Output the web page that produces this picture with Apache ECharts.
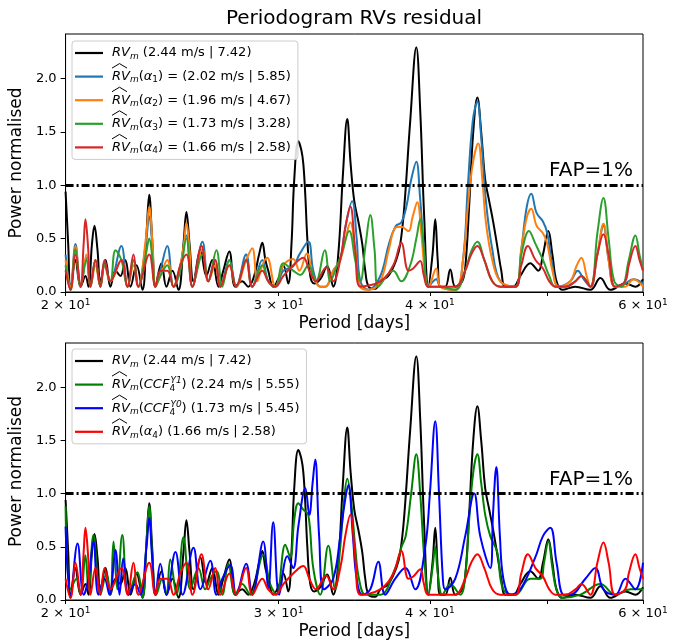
<!DOCTYPE html>
<html><head><meta charset="utf-8">
<script src="https://cdn.jsdelivr.net/npm/echarts@6/dist/echarts.min.js"></script>
<style>html,body{margin:0;padding:0;background:#fff}#c{width:679px;height:641px}</style>
</head><body><div id="c"></div><script>
// ---- data (period [days], normalised power) ----
const xTickValues=[20,30,40,50,60];
const xLabelValues=[20,30,40,60];
const yTickValues=[0,0.5,1.0,1.5,2.0];
const fapLevel=1.0;

const rvM=[[20.00,0.94],[20.10,0.45],[20.19,0.02],[20.38,0.30],[20.58,0.05],[20.77,0.15],[20.89,0.05],[21.03,0.45],[21.13,0.62],[21.25,0.40],[21.37,0.10],[21.58,0.30],[21.78,0.05],[21.99,0.20],[22.20,0.15],[22.41,0.30],[22.63,0.05],[22.89,0.25],[23.15,0.02],[23.33,0.55],[23.45,0.91],[23.58,0.50],[23.73,0.05],[24.00,0.27],[24.23,0.05],[24.51,0.20],[24.79,0.02],[25.03,0.45],[25.17,0.75],[25.32,0.45],[25.51,0.10],[25.85,0.40],[26.14,0.15],[26.44,0.30],[26.75,0.05],[27.00,0.20],[27.31,0.38],[27.62,0.05],[27.99,0.10],[28.31,0.05],[28.63,0.15],[28.90,0.35],[29.08,0.46],[29.25,0.30],[29.41,0.20],[29.69,0.05],[30.05,0.15],[30.27,0.25],[30.55,0.08],[30.74,0.45],[30.90,1.05],[31.14,1.41],[31.32,1.33],[31.44,1.20],[31.56,0.90],[31.68,0.50],[31.86,0.15],[32.10,0.08],[32.47,0.12],[32.90,0.24],[33.28,0.05],[33.60,0.35],[33.90,1.10],[34.18,1.62],[34.40,1.20],[34.64,0.85],[34.91,0.66],[35.17,0.45],[35.37,0.20],[35.60,0.05],[36.05,0.03],[36.40,0.10],[36.96,0.15],[37.52,0.30],[37.81,0.45],[38.10,0.80],[38.53,1.60],[38.98,2.29],[39.27,1.70],[39.57,0.70],[39.88,0.05],[40.20,0.35],[40.41,0.68],[40.60,0.30],[40.80,0.05],[41.19,0.05],[41.58,0.21],[41.98,0.05],[42.54,0.10],[42.80,0.25],[43.10,0.80],[43.44,1.50],[43.78,1.82],[44.10,1.50],[44.44,1.05],[44.78,0.85],[45.13,0.65],[45.47,0.43],[45.82,0.20],[46.17,0.05],[46.88,0.05],[47.51,0.15],[48.42,0.27],[49.16,0.20],[49.60,0.35],[50.11,0.57],[50.50,0.35],[50.90,0.10],[51.46,0.02],[52.75,0.05],[54.28,0.02],[55.33,0.13],[56.39,0.02],[58.03,0.08],[59.14,0.05],[60.00,0.12]];

const alpha1=[[20.00,0.35],[20.19,0.05],[20.38,0.45],[20.58,0.05],[20.81,0.32],[20.97,0.05],[21.17,0.30],[21.37,0.05],[21.54,0.28],[21.78,0.10],[22.24,0.43],[22.50,0.05],[22.76,0.30],[22.97,0.05],[23.30,0.45],[23.45,0.71],[23.60,0.40],[23.73,0.05],[23.95,0.20],[24.27,0.43],[24.56,0.05],[24.88,0.25],[25.17,0.53],[25.46,0.05],[25.95,0.47],[26.24,0.10],[26.59,0.30],[26.85,0.05],[27.31,0.30],[27.67,0.05],[28.20,0.35],[28.53,0.05],[29.08,0.30],[29.41,0.10],[29.81,0.05],[30.27,0.20],[30.84,0.24],[31.20,0.35],[31.74,0.47],[32.04,0.20],[32.47,0.05],[32.78,0.05],[33.28,0.20],[33.73,0.30],[34.05,0.60],[34.50,0.85],[34.80,0.50],[35.04,0.10],[35.60,0.02],[36.40,0.15],[37.00,0.45],[37.50,0.62],[37.88,0.65],[38.25,0.80],[38.60,1.05],[38.98,1.22],[39.25,0.90],[39.55,0.40],[39.88,0.05],[40.49,0.12],[40.80,0.05],[41.98,0.02],[42.60,0.30],[43.00,1.00],[43.40,1.60],[43.78,1.78],[44.10,1.45],[44.50,0.85],[45.04,0.40],[45.73,0.10],[47.06,0.05],[47.60,0.40],[48.10,0.80],[48.51,0.92],[49.00,0.74],[49.60,0.66],[50.01,0.55],[50.50,0.25],[51.10,0.05],[52.25,0.10],[53.00,0.20],[53.60,0.12],[54.28,0.05],[55.01,0.35],[55.65,0.62],[56.20,0.30],[56.90,0.05],[58.00,0.08],[58.92,0.12],[60.00,0.08]];

const alpha2=[[20.00,0.30],[20.19,0.05],[20.38,0.43],[20.58,0.05],[20.81,0.35],[20.97,0.05],[21.17,0.25],[21.37,0.05],[21.54,0.25],[21.78,0.10],[22.24,0.30],[22.50,0.05],[22.76,0.25],[22.97,0.05],[23.30,0.50],[23.45,0.80],[23.60,0.45],[23.73,0.05],[23.95,0.15],[24.27,0.30],[24.56,0.05],[24.88,0.25],[25.05,0.45],[25.17,0.65],[25.32,0.40],[25.46,0.05],[25.95,0.40],[26.24,0.10],[26.59,0.25],[26.85,0.05],[27.31,0.25],[27.67,0.05],[28.20,0.30],[28.53,0.41],[28.80,0.10],[29.08,0.25],[29.35,0.32],[29.81,0.05],[30.27,0.25],[30.84,0.31],[31.20,0.20],[31.65,0.36],[32.04,0.15],[32.47,0.05],[32.78,0.05],[33.28,0.20],[33.73,0.30],[34.05,0.48],[34.38,0.65],[34.70,0.40],[35.04,0.05],[35.60,0.02],[36.40,0.10],[37.00,0.40],[37.45,0.60],[37.88,0.61],[38.40,0.57],[38.70,0.70],[39.05,0.84],[39.35,0.55],[39.65,0.15],[39.88,0.05],[40.49,0.22],[40.80,0.05],[41.98,0.02],[42.60,0.30],[43.00,0.80],[43.40,1.20],[43.85,1.39],[44.20,1.05],[44.50,0.65],[45.04,0.30],[45.73,0.10],[47.06,0.05],[47.60,0.40],[48.10,0.70],[48.51,0.78],[49.00,0.62],[49.60,0.55],[50.01,0.45],[50.50,0.20],[51.10,0.05],[52.25,0.10],[52.90,0.25],[53.36,0.32],[53.90,0.15],[54.28,0.05],[55.01,0.35],[55.65,0.64],[56.20,0.30],[56.90,0.05],[58.00,0.05],[58.92,0.12],[60.00,0.05]];

const alpha3=[[20.00,0.25],[20.19,0.02],[20.38,0.40],[20.58,0.05],[20.81,0.30],[20.97,0.05],[21.17,0.30],[21.37,0.05],[21.54,0.25],[21.78,0.10],[21.99,0.39],[22.24,0.30],[22.50,0.05],[22.76,0.30],[22.97,0.05],[23.30,0.35],[23.45,0.50],[23.60,0.30],[23.73,0.05],[23.95,0.15],[24.27,0.25],[24.56,0.05],[24.88,0.20],[25.17,0.50],[25.46,0.05],[25.95,0.35],[26.24,0.10],[26.65,0.39],[26.95,0.05],[27.31,0.30],[27.67,0.05],[28.20,0.30],[28.53,0.05],[29.08,0.25],[29.41,0.10],[29.81,0.05],[30.27,0.27],[30.84,0.20],[31.26,0.16],[31.74,0.25],[32.20,0.10],[32.75,0.39],[33.10,0.10],[33.40,0.20],[33.80,0.35],[34.31,0.57],[34.70,0.30],[35.04,0.10],[35.40,0.45],[35.71,0.72],[36.00,0.40],[36.26,0.05],[37.31,0.20],[37.88,0.10],[38.53,0.25],[38.98,0.50],[39.27,0.68],[39.55,0.40],[39.88,0.05],[40.80,0.05],[41.98,0.02],[42.78,0.20],[43.27,0.38],[43.78,0.47],[44.36,0.30],[45.04,0.10],[45.73,0.05],[47.06,0.05],[47.60,0.35],[48.30,0.57],[48.90,0.45],[49.60,0.30],[50.20,0.15],[50.78,0.05],[51.76,0.05],[52.75,0.10],[53.36,0.15],[54.28,0.05],[55.01,0.55],[55.65,0.88],[56.20,0.50],[56.80,0.10],[57.60,0.05],[58.40,0.30],[59.14,0.53],[59.60,0.35],[60.00,0.20]];

const alpha4=[[20.00,0.20],[20.19,0.02],[20.38,0.35],[20.58,0.05],[20.70,0.45],[20.77,0.68],[20.88,0.40],[20.97,0.05],[21.17,0.30],[21.37,0.05],[21.54,0.30],[21.78,0.10],[22.24,0.30],[22.50,0.05],[22.76,0.35],[22.97,0.05],[23.45,0.35],[23.73,0.05],[23.95,0.20],[24.27,0.20],[24.56,0.05],[24.88,0.25],[25.17,0.35],[25.46,0.05],[25.90,0.43],[26.24,0.10],[26.59,0.30],[26.85,0.05],[27.31,0.25],[27.67,0.05],[28.20,0.30],[28.53,0.05],[29.08,0.20],[29.41,0.10],[29.81,0.05],[30.27,0.15],[30.84,0.25],[31.44,0.32],[31.80,0.20],[32.20,0.10],[32.84,0.23],[33.28,0.10],[33.73,0.30],[34.05,0.60],[34.38,0.80],[34.70,0.40],[35.04,0.05],[36.40,0.10],[37.31,0.25],[37.88,0.46],[38.40,0.20],[38.75,0.22],[39.27,0.29],[39.55,0.15],[39.88,0.05],[40.80,0.05],[41.98,0.05],[42.78,0.20],[43.27,0.35],[43.78,0.43],[44.36,0.30],[45.04,0.10],[45.73,0.05],[47.06,0.05],[47.60,0.25],[48.20,0.43],[48.90,0.30],[49.60,0.22],[50.20,0.10],[50.78,0.05],[51.76,0.05],[52.75,0.10],[53.36,0.15],[54.28,0.05],[55.01,0.35],[55.65,0.54],[56.20,0.35],[56.90,0.05],[58.00,0.10],[58.40,0.25],[59.14,0.43],[59.60,0.30],[60.00,0.20]];

const ccfY1=[[20.00,0.88],[20.19,0.10],[20.42,0.20],[20.58,0.05],[20.77,0.42],[20.89,0.10],[21.09,0.61],[21.37,0.05],[21.62,0.25],[21.78,0.05],[21.91,0.55],[22.07,0.10],[22.28,0.61],[22.54,0.05],[22.93,0.26],[23.15,0.02],[23.33,0.55],[23.45,0.88],[23.58,0.45],[23.77,0.05],[24.04,0.20],[24.23,0.05],[24.41,0.38],[24.70,0.05],[25.03,0.59],[25.36,0.10],[25.75,0.30],[26.09,0.10],[26.34,0.20],[26.65,0.27],[26.95,0.05],[27.26,0.34],[27.62,0.05],[27.99,0.15],[28.42,0.05],[29.13,0.42],[29.52,0.15],[29.87,0.05],[30.38,0.52],[30.67,0.40],[30.90,0.75],[31.14,0.91],[31.44,0.85],[31.74,0.80],[32.04,0.30],[32.47,0.05],[32.97,0.51],[33.41,0.10],[33.73,0.50],[33.95,0.90],[34.18,1.14],[34.45,0.90],[34.70,0.50],[34.95,0.20],[35.37,0.05],[35.85,0.05],[36.40,0.05],[37.45,0.30],[37.90,0.50],[38.20,0.60],[38.60,1.00],[38.98,1.37],[39.27,1.00],[39.57,0.40],[39.88,0.05],[40.20,0.30],[40.41,0.50],[40.60,0.25],[40.96,0.05],[41.58,0.15],[42.38,0.05],[42.80,0.25],[43.10,0.75],[43.44,1.20],[43.78,1.37],[44.10,1.10],[44.44,0.80],[44.87,0.60],[45.47,0.45],[45.99,0.10],[47.06,0.05],[48.42,0.20],[49.35,0.20],[49.70,0.35],[50.11,0.55],[50.50,0.30],[50.88,0.10],[51.46,0.02],[53.26,0.05],[55.33,0.15],[56.93,0.05],[58.58,0.10],[60.00,0.10]];

const ccfY0=[[20.00,0.69],[20.19,0.05],[20.46,0.53],[20.70,0.05],[20.89,0.20],[21.09,0.55],[21.29,0.05],[21.54,0.20],[21.74,0.05],[21.99,0.47],[22.16,0.05],[22.32,0.39],[22.54,0.05],[22.84,0.15],[23.06,0.05],[23.33,0.50],[23.45,0.77],[23.58,0.40],[23.73,0.05],[23.95,0.34],[24.23,0.05],[24.65,0.45],[24.99,0.05],[25.51,0.49],[25.85,0.10],[26.34,0.37],[26.65,0.05],[26.95,0.20],[27.36,0.33],[27.67,0.05],[28.20,0.34],[28.53,0.05],[29.13,0.55],[29.41,0.10],[29.69,0.73],[30.03,0.05],[30.50,0.41],[30.84,0.30],[31.15,0.70],[31.56,1.05],[31.80,0.80],[32.00,1.10],[32.16,1.32],[32.40,0.60],[32.70,0.10],[33.28,0.20],[33.73,0.60],[34.00,0.90],[34.25,1.08],[34.55,0.60],[34.80,0.20],[35.17,0.05],[35.71,0.10],[36.26,0.36],[36.74,0.05],[37.45,0.20],[38.17,0.30],[38.90,0.10],[39.65,0.50],[40.00,1.00],[40.41,1.68],[40.70,1.00],[41.00,0.20],[41.19,0.10],[41.98,0.20],[42.78,0.60],[43.52,1.00],[44.02,0.60],[44.87,0.30],[45.10,0.80],[45.39,1.25],[45.70,0.60],[46.00,0.20],[46.61,0.05],[47.51,0.10],[48.88,0.40],[49.60,0.60],[50.30,0.68],[50.90,0.35],[51.60,0.05],[52.25,0.05],[53.77,0.20],[54.80,0.30],[55.65,0.10],[56.93,0.05],[58.03,0.20],[59.14,0.10],[60.00,0.35]];

// ---- legend labels ----
const legendText={
 t_rv:'{i0|RV}{sm|m}{n| (2.44 m/s | 7.42)}',
 t_a1:'{i0|RV}{sm|m}{n|(}{i|α}{s|1}{n|) = (2.02 m/s | 5.85)}',
 t_a2:'{i0|RV}{sm|m}{n|(}{i|α}{s|2}{n|) = (1.96 m/s | 4.67)}',
 t_a3:'{i0|RV}{sm|m}{n|(}{i|α}{s|3}{n|) = (1.73 m/s | 3.28)}',
 t_a4:'{i0|RV}{sm|m}{n|(}{i|α}{s|4}{n|) = (1.66 m/s | 2.58)}',
 b_rv:'{i0|RV}{sm|m}{n| (2.44 m/s | 7.42)}',
 b_y1:'{i0|RV}{sm|m}{n|(}{i|CCF}{ss|4}{p|Y1}{n|) (2.24 m/s | 5.55)}',
 b_y0:'{i0|RV}{sm|m}{n|(}{i|CCF}{ss|4}{p|Y0}{n|) (1.73 m/s | 5.45)}',
 b_a4:'{i0|RV}{sm|m}{n|(}{i|α}{s|4}{n|) (1.66 m/s | 2.58)}'
};
const FONT='DejaVu Sans';
const rich={
 n:{fontSize:13,fontFamily:FONT,color:'#000',lineHeight:18},
 i:{fontSize:13,fontFamily:FONT,fontStyle:'italic',color:'#000',lineHeight:18},
 i0:{fontSize:13,fontFamily:FONT,fontStyle:'italic',color:'#000',lineHeight:18,padding:[0,0,0,4]},
 s:{fontSize:9,fontFamily:FONT,color:'#000',padding:[7,0,0,0]},
 sm:{fontSize:9,fontFamily:FONT,fontStyle:'italic',color:'#000',padding:[7,0,0,0]},
 ss:{fontSize:9,fontFamily:FONT,color:'#000',padding:[8,0,0,0],width:1},
 p:{fontSize:9,fontFamily:FONT,fontStyle:'italic',color:'#000',padding:[0,0,8,0]}
};

const G=[{left:65,top:34,width:578,height:258},{left:65,top:343,width:578,height:257}];
const LEG=[{left:72,top:41,n:5},{left:72,top:349,n:4}];
const STEP=23.6;

function xAx(gi){return {type:'log',gridIndex:gi,min:20,max:60,
 axisLine:{show:true,lineStyle:{color:'#000',width:1}},
 axisTick:{show:true,customValues:xTickValues,length:4,lineStyle:{color:'#000',width:1}},
 minorTick:{show:false},splitLine:{show:false},
 axisLabel:{customValues:xLabelValues,margin:6,formatter:v=>'{a|'+Math.round(v/10)+' × 10}{b|1}',
   rich:{a:{fontSize:13,fontFamily:FONT,color:'#000'},b:{fontSize:9,fontFamily:FONT,color:'#000',padding:[0,0,7,0]}}},
 name:'Period [days]',nameLocation:'middle',nameGap:23,
 nameTextStyle:{fontSize:17,fontFamily:FONT,color:'#000'}};}
function yAx(gi){return {type:'value',gridIndex:gi,min:0,max:2.415,
 axisLine:{show:true,lineStyle:{color:'#000',width:1}},
 axisTick:{show:true,customValues:yTickValues,length:5,lineStyle:{color:'#000'}},
 splitLine:{show:false},
 axisLabel:{customValues:yTickValues,margin:9,fontSize:13,fontFamily:FONT,color:'#000',formatter:v=>v.toFixed(1)},
 name:'Power normalised',nameLocation:'middle',nameGap:27,
 nameTextStyle:{fontSize:17,fontFamily:FONT,color:'#000'}};}

function ser(name,data,color,gi,z,fap){const s={name,type:'line',data,xAxisIndex:gi,yAxisIndex:gi,
 showSymbol:false,smooth:0.4,z,lineStyle:{color,width:2},itemStyle:{color},emphasis:{disabled:true}};
 if(fap){s.markLine={silent:true,symbol:'none',data:[{yAxis:fapLevel}],
   lineStyle:{color:'#000',width:3,type:[8,3,2,3]},
   label:{show:true,position:'insideEndTop',formatter:'FAP=1%',fontSize:20,fontFamily:FONT,color:'#000',distance:[10,4]}};}
 return s;}

const hats=[];
function addHats(li,from){const L=LEG[li];for(let k=from;k<L.n;k++){const cy=L.top+3+9+k*STEP;
 hats.push({type:'polyline',silent:true,z:100,shape:{points:[[L.left+40,cy-8.5],[L.left+47.5,cy-13],[L.left+55,cy-8.5]]},
 style:{stroke:'#000',lineWidth:1,fill:null}});}}
addHats(0,1);addHats(1,1);

function leg(li,names){const L=LEG[li];return {orient:'vertical',left:L.left,top:L.top,data:names,
 icon:'rect',itemWidth:28,itemHeight:2.2,itemGap:STEP-18,padding:[3,7,3,3],
 backgroundColor:'rgba(255,255,255,0.85)',borderColor:'#cccccc',borderWidth:1,borderRadius:3,
 selectedMode:false,formatter:n=>legendText[n],textStyle:{rich,fontSize:13,lineHeight:18}};}

const chart=echarts.init(document.getElementById('c'),null,{renderer:'canvas'});
chart.setOption({
 animation:false,backgroundColor:'#fff',
 title:{text:'Periodogram RVs residual',left:354,top:9,textAlign:'center',padding:0,
   textStyle:{fontSize:20,fontFamily:FONT,fontWeight:'normal',color:'#000'}},
 grid:G.map(g=>Object.assign({show:true,borderColor:'#000',borderWidth:1,backgroundColor:'transparent'},g)),
 xAxis:[xAx(0),xAx(1)],yAxis:[yAx(0),yAx(1)],
 legend:[leg(0,['t_rv','t_a1','t_a2','t_a3','t_a4']),leg(1,['b_rv','b_y1','b_y0','b_a4'])],
 series:[
  ser('t_rv',rvM,'#000000',0,2,true),
  ser('t_a1',alpha1,'#1f77b4',0,3),
  ser('t_a2',alpha2,'#ff7f0e',0,4),
  ser('t_a3',alpha3,'#2ca02c',0,5),
  ser('t_a4',alpha4,'#d62728',0,6),
  ser('b_rv',rvM,'#000000',1,2,true),
  ser('b_y1',ccfY1,'#008000',1,3),
  ser('b_y0',ccfY0,'#0000ff',1,4),
  ser('b_a4',alpha4,'#ff0000',1,5)
 ],
 graphic:hats
});
</script></body></html>
